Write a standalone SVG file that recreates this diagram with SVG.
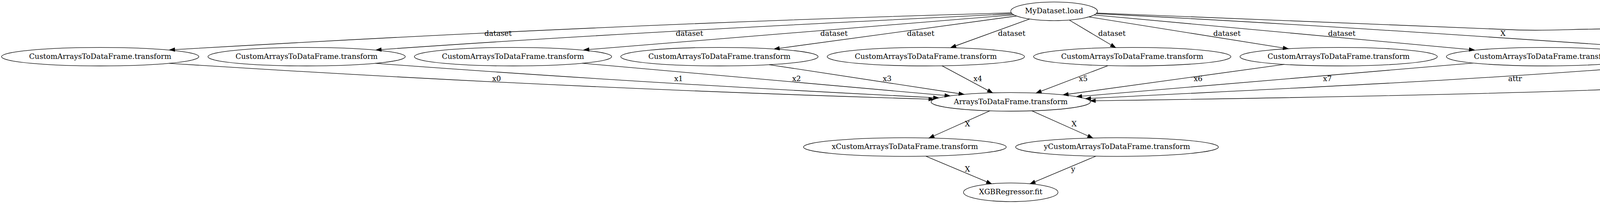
<svg xmlns="http://www.w3.org/2000/svg" width="4796" height="523" viewBox="0 0 4796 523">
<style>
.node ellipse{fill:none;stroke:#000;stroke-width:1.33}
.node text{font-family:"DejaVu Serif","Liberation Serif",serif;font-size:18.7px;text-anchor:middle;fill:#000}
.edges path{fill:none;stroke:#000;stroke-width:1.33;marker-end:url(#ah)}
.lbl{font-family:"DejaVu Serif","Liberation Serif",serif;font-size:18.7px;fill:#000}
</style>
<defs>
<marker id="ah" markerUnits="userSpaceOnUse" markerWidth="15" markerHeight="11" refX="0" refY="5.5" orient="auto" overflow="visible">
<path d="M0,0.9 L13.2,5.5 L0,10.1 Z" fill="#000" stroke="#000" stroke-width="1.2"/>
</marker>
</defs>
<rect x="0" y="0" width="4796" height="523" fill="#fff"/>
<g id="edges" class="edges">
<path d="M2589,33 C1874.5,52.7 1160.2,85.4 447.2,127.2"/>
<path d="M2591.5,35.5 C2054.5,61.8 1512.9,89.2 975.9,127.1"/>
<path d="M2595.7,38 L1507.8,126.9"/>
<path d="M2602.6,41 L1995.1,123.8"/>
<path d="M2636,48.7 L2446.4,117.5"/>
<path d="M2737,51.3 L2844.6,115.3"/>
<path d="M2787.2,43.3 L3285,122.9"/>
<path d="M2800.7,38.3 L3761.4,126.8"/>
<path d="M2806.8,35 C3300,59.7 3793.8,93.1 4286.8,127.1"/>
<path d="M2807.7,33.3 C3300,53 3700,72 3890,77 C3980,79.4 4020,74 4135,74 C4450,74 4709,95 4709,150 C4709,185 4600,200 4365,217 C4100,236.1 3404.2,249.7 2804.2,258.3"/>
<path d="M432.4,162.3 C1080.4,204.4 1729.8,234.7 2377.8,254.1"/>
<path d="M960.5,162.3 C1436.5,198 1913.8,226.5 2389.8,250.3"/>
<path d="M1490.8,162.2 L2418.9,244.6"/>
<path d="M1969,165.8 L2455,240"/>
<path d="M2411.5,168.7 L2529.4,231.8"/>
<path d="M2836.2,168.3 L2664.8,233.8"/>
<path d="M3287.7,165.1 L2734.6,241.5"/>
<path d="M3772,161.6 L2769.2,246.7"/>
<path d="M4304,162.5 C3800,205.3 3296.2,226 2792.2,252.2"/>
<path d="M2534,284.2 L2390.3,348.5"/>
<path d="M2641.5,284.2 L2785.5,348.5"/>
<path d="M2370,400.3 L2526.3,466.2"/>
<path d="M2805.5,400.3 L2649.2,466.2"/>
<g id="edge-labels">
<text class="lbl" x="1240" y="92.4">dataset</text>
<text class="lbl" x="1730" y="92.4">dataset</text>
<text class="lbl" x="2100" y="92.4">dataset</text>
<text class="lbl" x="2322" y="92.4">dataset</text>
<text class="lbl" x="2555" y="92.4">dataset</text>
<text class="lbl" x="2811.5" y="92.4">dataset</text>
<text class="lbl" x="3106" y="92.4">dataset</text>
<text class="lbl" x="3400" y="92.4">dataset</text>
<text class="lbl" x="3841" y="92.4">X</text>
<text class="lbl" x="4723" y="150.7">dataset</text>
<text class="lbl" x="1260" y="208.4">x0</text>
<text class="lbl" x="1726" y="208.4">x1</text>
<text class="lbl" x="2028" y="208.4">x2</text>
<text class="lbl" x="2260" y="208.4">x3</text>
<text class="lbl" x="2492" y="208.4">x4</text>
<text class="lbl" x="2762" y="208.4">x5</text>
<text class="lbl" x="3056" y="208.4">x6</text>
<text class="lbl" x="3387" y="208.4">x7</text>
<text class="lbl" x="3861" y="208.4">attr</text>
<text class="lbl" x="2470" y="324.4">X</text>
<text class="lbl" x="2743" y="324.4">X</text>
<text class="lbl" x="2470" y="440.4">X</text>
<text class="lbl" x="2742" y="440.4">y</text>
</g>
</g>
<g id="n_load" class="node"><ellipse cx="2698.5" cy="29" rx="111" ry="23.8"/><text x="2698.5" y="34.4">MyDataset.load</text></g>
<g id="n_c0" class="node"><ellipse cx="256.5" cy="145.3" rx="252.5" ry="23.7"/><text x="256.5" y="150.7">CustomArraysToDataFrame.transform</text></g>
<g id="n_c1" class="node"><ellipse cx="784.9" cy="145.3" rx="252.5" ry="23.7"/><text x="784.9" y="150.7">CustomArraysToDataFrame.transform</text></g>
<g id="n_c2" class="node"><ellipse cx="1313.3" cy="145.3" rx="252.5" ry="23.7"/><text x="1313.3" y="150.7">CustomArraysToDataFrame.transform</text></g>
<g id="n_c3" class="node"><ellipse cx="1841.7" cy="145.3" rx="252.5" ry="23.7"/><text x="1841.7" y="150.7">CustomArraysToDataFrame.transform</text></g>
<g id="n_c4" class="node"><ellipse cx="2370.1" cy="145.3" rx="252.5" ry="23.7"/><text x="2370.1" y="150.7">CustomArraysToDataFrame.transform</text></g>
<g id="n_c5" class="node"><ellipse cx="2898.5" cy="145.3" rx="252.5" ry="23.7"/><text x="2898.5" y="150.7">CustomArraysToDataFrame.transform</text></g>
<g id="n_c6" class="node"><ellipse cx="3426.9" cy="145.3" rx="252.5" ry="23.7"/><text x="3426.9" y="150.7">CustomArraysToDataFrame.transform</text></g>
<g id="n_c7" class="node"><ellipse cx="3955.3" cy="145.3" rx="252.5" ry="23.7"/><text x="3955.3" y="150.7">CustomArraysToDataFrame.transform</text></g>
<g id="n_if" class="node"><ellipse cx="4464.3" cy="145.3" rx="232.5" ry="23.7"/><text x="4464.3" y="150.7">InstantaneousFrequency.transform</text></g>
<g id="n_arr" class="node"><ellipse cx="2587.5" cy="261.2" rx="204" ry="23.8"/><text x="2587.5" y="266.6">ArraysToDataFrame.transform</text></g>
<g id="n_x" class="node"><ellipse cx="2316.5" cy="377" rx="259.5" ry="23.8"/><text x="2316.5" y="382.4">xCustomArraysToDataFrame.transform</text></g>
<g id="n_y" class="node"><ellipse cx="2859.5" cy="377" rx="259.5" ry="23.8"/><text x="2859.5" y="382.4">yCustomArraysToDataFrame.transform</text></g>
<g id="n_xgb" class="node"><ellipse cx="2587.5" cy="493" rx="121" ry="23.8"/><text x="2587.5" y="498.4">XGBRegressor.fit</text></g>
</svg>
